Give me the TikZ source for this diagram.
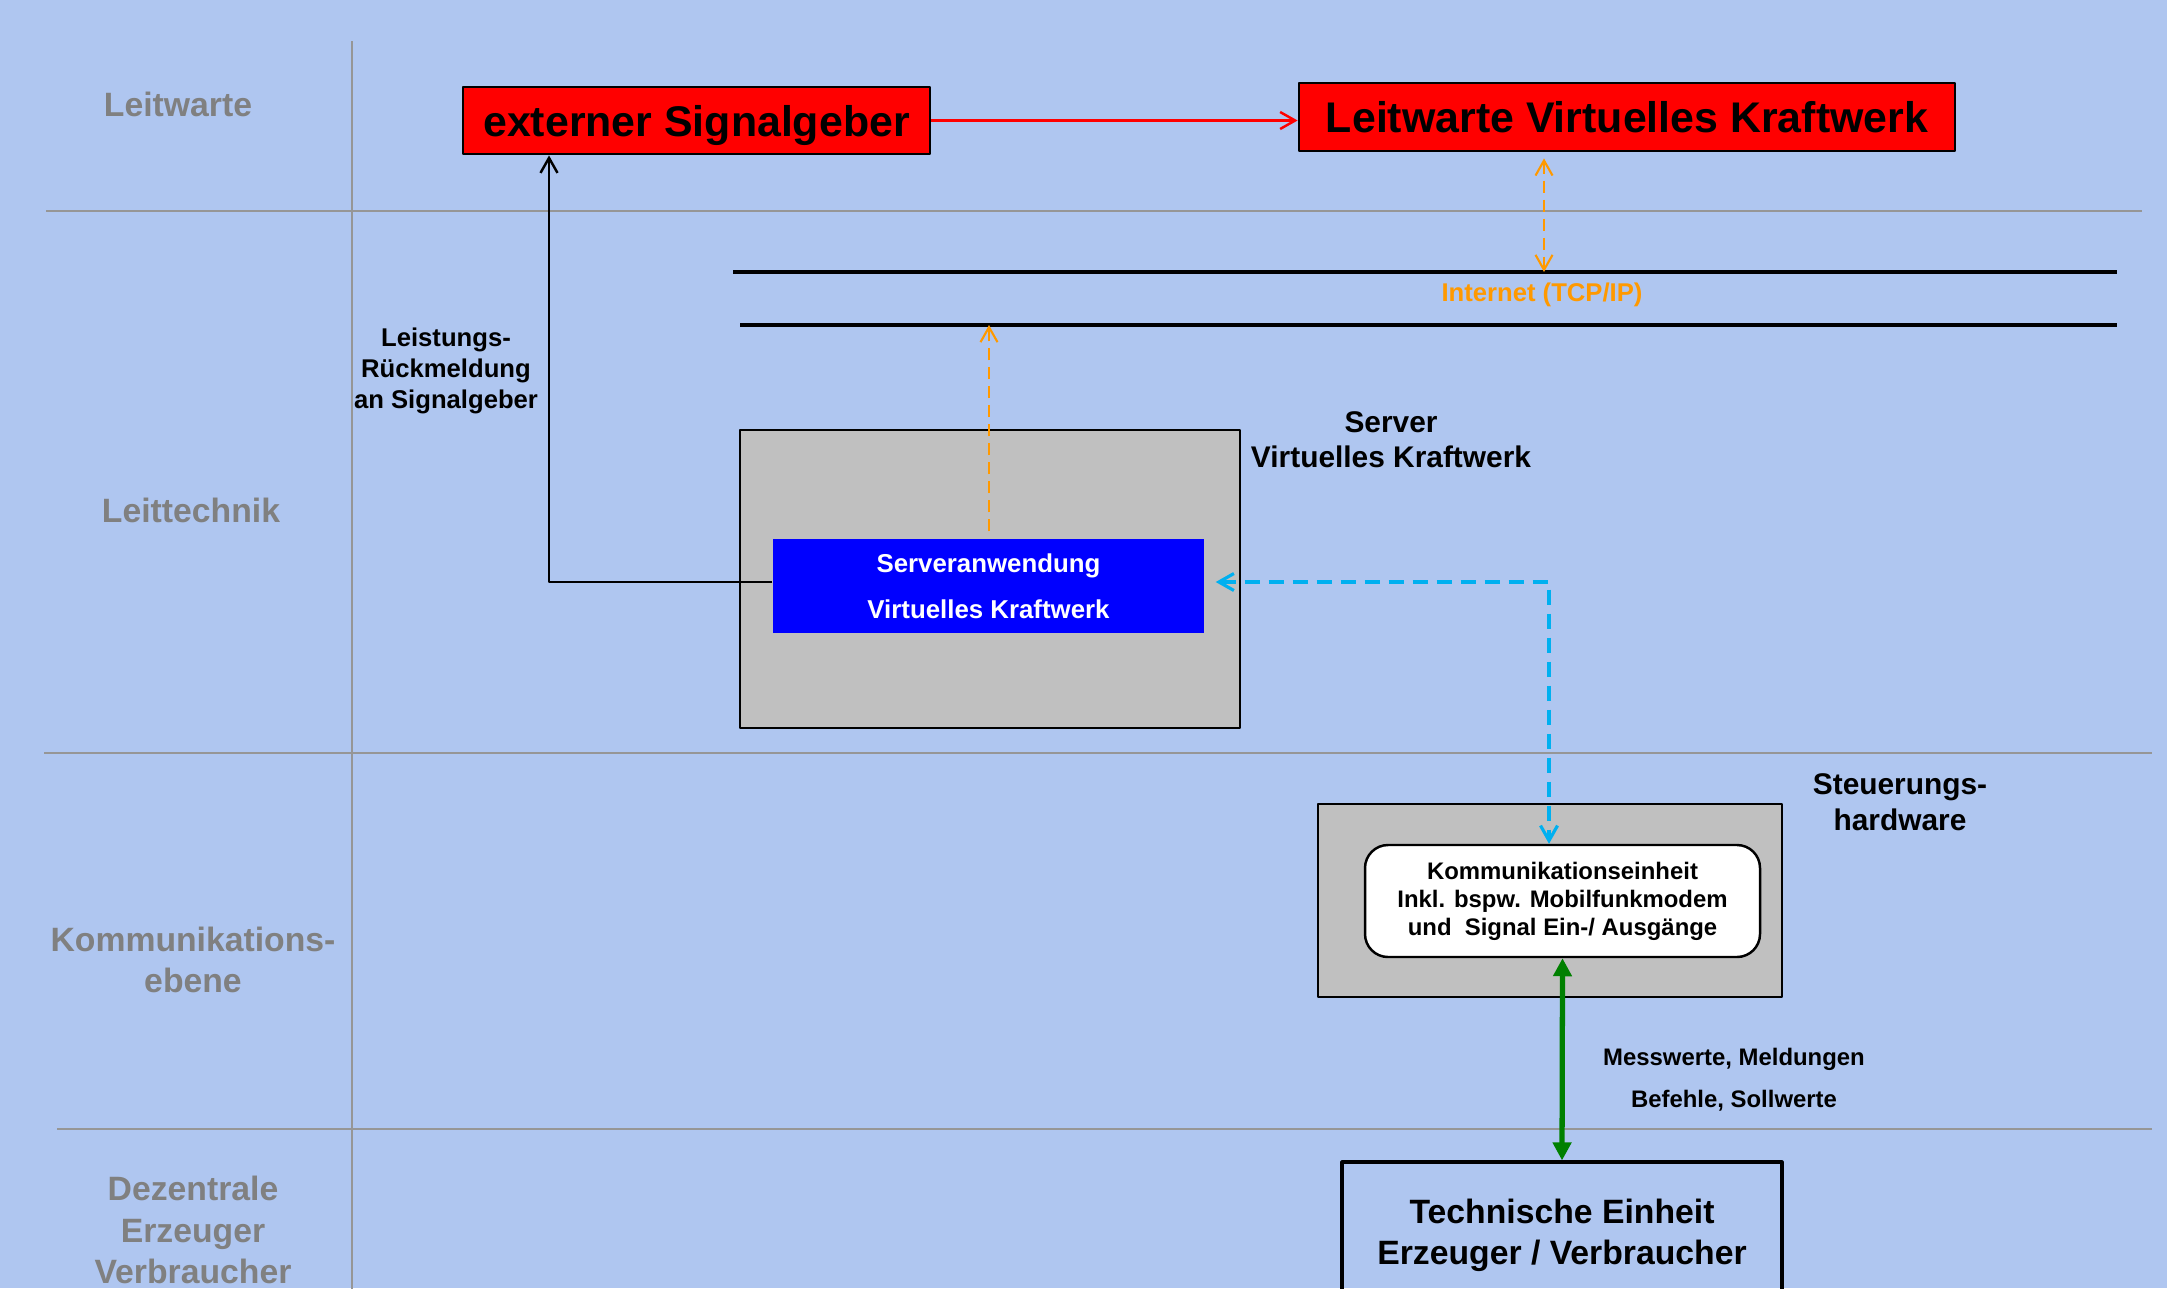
\documentclass[tikz,border=0pt]{standalone}
\usepackage{fontspec}
\setmainfont{Liberation Sans}
\usetikzlibrary{arrows.meta}
\definecolor{bgblue}{RGB}{175,198,240}
\definecolor{lanegray}{RGB}{150,150,150}
\definecolor{labelgray}{RGB}{128,128,128}
\definecolor{netorange}{RGB}{255,153,0}
\definecolor{linkcyan}{RGB}{0,176,240}
\definecolor{boxgray}{RGB}{192,192,192}
\definecolor{linkgreen}{RGB}{0,128,0}
\begin{document}
\begin{tikzpicture}[x=1mm,y=-1mm,>={Straight Barb[length=1.5mm,width=1.7mm]}, line join=round,
	lane/.style={font=\bfseries\fontsize{9.6}{11.7}\selectfont, text=labelgray, align=center},
	redbox/.style={draw=black, line width=0.8pt, fill=red, inner sep=0pt, text depth=0pt, font=\bfseries\fontsize{12.2}{14}\selectfont},
	graybox/.style={draw=black, line width=0.7pt, fill=boxgray, inner sep=0pt},
	netlink/.style={netorange, line width=0.6pt, dash pattern=on 1.2mm off 0.7mm},
	ctrllink/.style={linkcyan, line width=0.9pt, dash pattern=on 1.5mm off 0.9mm},
	datalink/.style={linkgreen, line width=1.5pt, {Triangle[length=1.8mm,width=1.8mm]}-{Triangle[length=1.8mm,width=1.8mm]}}]
		\def\W{216.7} \def\H{128.8} % Bildgroesse
		
		\useasboundingbox (0,0) rectangle (\W,\H);
		\clip (0,0) rectangle (\W,\H);
		\fill[bgblue] (0,0) rectangle (\W,\H);
		
		% Ebenen
		\draw[lanegray, line width=0.45pt] (35.2,4.1)--(35.2,\H+1);
		\draw[lanegray, line width=0.6pt] (4.6,21.1)--(214.2,21.1) (4.4,75.3)--(215.2,75.3) (5.7,112.9)--(215.2,112.9);
		\node[lane] (lwlbl) at (17.8,10.4) {Leitwarte};
		\node[lane] (ltlbl) at (19.1,51.0) {Leittechnik};
		\node[lane] (kelbl) at (19.3,96.0) {Kommunikations-\\ebene};
		\node[lane] (delbl) at (19.3,123.0) {Dezentrale\\Erzeuger\\Verbraucher};
		
		\node[redbox, minimum width=46.7mm, minimum height=6.7mm] (ext) at (69.65,12.05) {externer Signalgeber};
		\node[redbox, minimum width=65.6mm, minimum height=6.8mm] (vk) at (162.7,11.7) {Leitwarte Virtuelles Kraftwerk};
		
		% Internet
		\draw[line width=1.2pt] (73.3,27.2)--(211.7,27.2) (74.0,32.5)--(211.7,32.5);
		\coordinate (netup) at (154.4,27.2); \coordinate (netdown) at (98.9,32.5);
		\node[font=\bfseries\fontsize{7.3}{8.8}\selectfont, text=netorange] (inet) at (154.2,29.5) {Internet (TCP/IP)};
		
		\node[graybox, minimum width=50mm, minimum height=29.8mm] (srv) at (99.0,57.9) {};
		\node[fill=blue, inner sep=0pt, minimum width=43.1mm, minimum height=9.4mm, text=white, font=\bfseries\fontsize{7.35}{13.1}\selectfont, align=center] (app) at (98.85,58.6) {Serveranwendung\\Virtuelles Kraftwerk};
		\node[font=\bfseries\fontsize{8.5}{10}\selectfont, align=center] (srvlbl) at (139.1,44.0) {Server\\Virtuelles Kraftwerk};
		\node[font=\bfseries\fontsize{7.3}{8.8}\selectfont, align=center] (fblbl) at (44.6,37.1) {Leistungs-\\Rückmeldung\\an Signalgeber};
		
		\node[graybox, minimum width=46.4mm, minimum height=19.3mm] (hw) at (155.0,90.05) {};
		\node[draw=black, line width=0.7pt, fill=white, rounded corners=2.3mm, minimum width=39.5mm, minimum height=11.2mm, inner sep=0pt, font=\bfseries\fontsize{6.8}{8}\selectfont, align=center] (komm) at (156.25,90.1) {Kommunikationseinheit\\Inkl. bspw. Mobilfunkmodem\\und~~Signal Ein-/ Ausgänge};
		\node[font=\bfseries\fontsize{8.5}{10.2}\selectfont, align=center] (hwlbl) at (190.0,80.2) {Steuerungs-\\hardware};
		
		\node[draw=black, line width=0.9pt, minimum width=44mm, minimum height=14.7mm, inner sep=0pt, font=\bfseries\fontsize{9.6}{11.7}\selectfont, align=center] (tech) at (156.2,123.55) {Technische Einheit\\Erzeuger / Verbraucher};
		\node[font=\bfseries\fontsize{6.8}{12}\selectfont, align=center] (data) at (173.4,108.0) {Messwerte, Meldungen\\Befehle, Sollwerte};
		
		% Verbindungen
		\draw[red, line width=0.7pt, ->] (ext.east)--(ext.east-|vk.west);
		\draw[netlink, <->, shorten <=0.6mm] (vk.south-|netup)--(netup);
		\draw[netlink, ->, shorten <=0.7mm] (app.north-|netdown)--(netdown);
		\coordinate (fb) at (54.9,58.2); \coordinate (cyc) at (154.9,58.2);
		\draw[line width=0.7pt, ->] (app.west|-fb)--(fb)--(fb|-ext.south);
		\draw[ctrllink, <->, shorten <=1.1mm] (app.east|-cyc)--(cyc)--(cyc|-komm.north);
		\draw[datalink] (komm.south)--(tech.north);
		\end{tikzpicture}
\end{document}
